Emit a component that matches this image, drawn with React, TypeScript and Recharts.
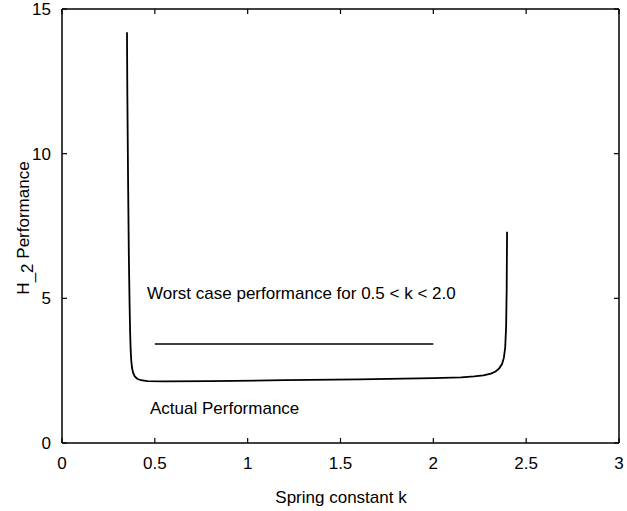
import React from "react";
import { LineChart, Line, XAxis, YAxis } from "recharts";

// actual performance curve (spring constant k vs H_2 performance)
const actualK = [
  0.35, 0.352, 0.356, 0.36, 0.364, 0.367, 0.37, 0.373, 0.377, 0.383, 0.392, 0.405,
  0.425, 0.46, 0.55, 0.8, 1.2, 1.6, 2.0, 2.15, 2.22, 2.27, 2.31, 2.335, 2.355, 2.37,
  2.38, 2.387, 2.392, 2.395, 2.397,
];
const actualH = [
  14.2, 12, 9, 6.5, 4.8, 3.8, 3.2, 2.85, 2.6, 2.43, 2.3, 2.22,
  2.17, 2.14, 2.13, 2.14, 2.17, 2.2, 2.24, 2.27, 2.3, 2.34, 2.4, 2.47, 2.58, 2.73,
  2.95, 3.3, 4.0, 5.3, 7.3,
];

// worst case performance for 0.5 < k < 2.0
const worstK = [0.5, 2.0];
const worstH = [3.42, 3.42];

const xTicks = [0, 0.5, 1, 1.5, 2, 2.5, 3];
const yTicks = [0, 5, 10, 15];

const actualData = actualK.map((k, i) => ({ k, h: actualH[i] }));
const worstData = worstK.map((k, i) => ({ k, h: worstH[i] }));

const FONT = "'Liberation Sans', Arial, Helvetica, sans-serif";
const FS = 17;
const TICK = 5;

function BottomTick(props: any) {
  const { x, y, payload } = props;
  return (
    <g>
      <line x1={x} y1={y} x2={x} y2={y - TICK} stroke="#000" strokeWidth={1.2} />
      <text x={x} y={y + 26} textAnchor="middle" fontSize={FS} fontFamily={FONT} fill="#000">
        {payload.value}
      </text>
    </g>
  );
}

function TopTick(props: any) {
  const { x, y } = props;
  return <line x1={x} y1={y} x2={x} y2={y + TICK} stroke="#000" strokeWidth={1.2} />;
}

function LeftTick(props: any) {
  const { x, y, payload } = props;
  return (
    <g>
      <line x1={x} y1={y} x2={x + TICK} y2={y} stroke="#000" strokeWidth={1.2} />
      <text x={x - 11} y={y + 6} textAnchor="end" fontSize={FS} fontFamily={FONT} fill="#000">
        {payload.value}
      </text>
    </g>
  );
}

function RightTick(props: any) {
  const { x, y } = props;
  return <line x1={x} y1={y} x2={x - TICK} y2={y} stroke="#000" strokeWidth={1.2} />;
}

export default function App() {
  return (
    <div style={{ position: "absolute", left: 0, top: 0, width: 627, height: 511, background: "#fff" }}>
      <LineChart width={627} height={511} margin={{ top: 8, right: 7, bottom: 0, left: 0 }}>
        <XAxis
          dataKey="k"
          type="number"
          domain={[0, 3]}
          ticks={xTicks}
          interval={0}
          height={68}
          tickSize={0}
          tickMargin={0}
          tick={<BottomTick />}
          axisLine={{ stroke: "#000", strokeWidth: 1.5 }}
          allowDataOverflow
        />
        <XAxis
          xAxisId="top"
          dataKey="k"
          orientation="top"
          type="number"
          domain={[0, 3]}
          ticks={xTicks}
          interval={0}
          height={1}
          tickSize={0}
          tickMargin={0}
          tick={<TopTick />}
          axisLine={{ stroke: "#000", strokeWidth: 1.5 }}
          allowDataOverflow
        />
        <YAxis
          type="number"
          domain={[0, 15]}
          ticks={yTicks}
          interval={0}
          width={62}
          tickSize={0}
          tickMargin={0}
          tick={<LeftTick />}
          axisLine={{ stroke: "#000", strokeWidth: 1.5 }}
          allowDataOverflow
        />
        <YAxis
          yAxisId="right"
          orientation="right"
          type="number"
          domain={[0, 15]}
          ticks={yTicks}
          interval={0}
          width={1}
          tickSize={0}
          tickMargin={0}
          tick={<RightTick />}
          axisLine={{ stroke: "#000", strokeWidth: 1.5 }}
          allowDataOverflow
        />
        <Line
          data={actualData}
          dataKey="h"
          type="linear"
          stroke="#000"
          strokeWidth={1.8}
          dot={false}
          isAnimationActive={false}
        />
        <Line
          data={worstData}
          dataKey="h"
          type="linear"
          stroke="#000"
          strokeWidth={1.4}
          dot={false}
          isAnimationActive={false}
        />
        {/* invisible series so the top and right frame axes get drawn */}
        <Line
          data={worstData}
          dataKey="h"
          xAxisId="top"
          yAxisId="right"
          stroke="none"
          strokeOpacity={0}
          dot={false}
          activeDot={false}
          isAnimationActive={false}
        />
      </LineChart>
      <svg
        width={627}
        height={511}
        style={{ position: "absolute", left: 0, top: 0, pointerEvents: "none" }}
        fontFamily={FONT}
        fontSize={FS}
      >
        <text x={147} y={299} fill="#000">Worst case performance for 0.5 &lt; k &lt; 2.0</text>
        <text x={150} y={414} fill="#000">Actual Performance</text>
        <text x={341} y={503} textAnchor="middle" fill="#000">Spring constant k</text>
        <text transform="translate(29, 228) rotate(-90)" textAnchor="middle" fill="#000">
          H<tspan dy={4}>_2</tspan>
          <tspan dy={-4}>{"\u00a0Performance"}</tspan>
        </text>
      </svg>
    </div>
  );
}
